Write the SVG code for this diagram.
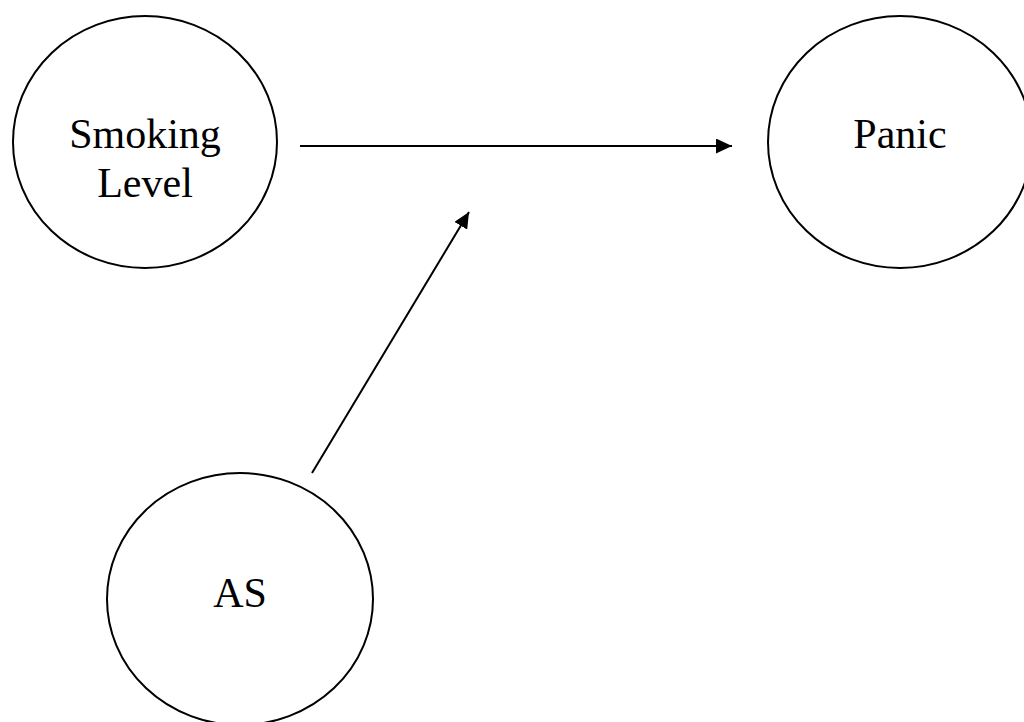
<svg xmlns="http://www.w3.org/2000/svg" width="1024" height="722" viewBox="0 0 1024 722">
<defs>
<style>
.node{fill:#fff;stroke:#000;stroke-width:2}
.lbl{font-family:"Liberation Serif","Times New Roman",serif;font-size:42px;fill:#000;text-anchor:middle}
.edge{stroke:#000;stroke-width:2;fill:none}
</style>
<marker id="arr" viewBox="0 0 16 15" refX="16" refY="7.5" markerWidth="16" markerHeight="15" markerUnits="userSpaceOnUse" orient="auto">
<path d="M0,0 L16,7.5 L0,15 z" fill="#000"/>
</marker>
</defs>
<rect width="1024" height="722" fill="#fff"/>
<g id="smoking">
<ellipse class="node" cx="145" cy="142" rx="132" ry="126"/>
<text class="lbl" x="145" y="148">Smoking</text>
<text class="lbl" x="145" y="197">Level</text>
</g>
<g id="panic">
<ellipse class="node" cx="900" cy="142" rx="132" ry="126"/>
<text class="lbl" x="900" y="148">Panic</text>
</g>
<g id="as">
<ellipse class="node" cx="240" cy="599" rx="133" ry="126"/>
<text class="lbl" x="240" y="607">AS</text>
</g>
<g id="connectors">
<line class="edge" x1="300" y1="146" x2="732" y2="146" marker-end="url(#arr)"/>
<line class="edge" x1="312" y1="473" x2="469" y2="212" marker-end="url(#arr)"/>
</g>
</svg>
